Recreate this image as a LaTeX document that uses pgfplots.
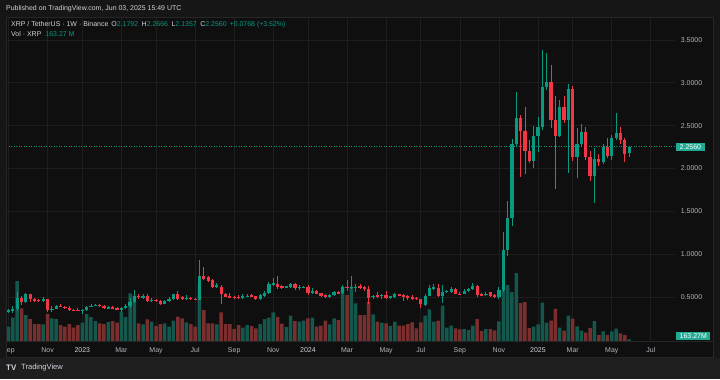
\documentclass[border=0pt]{standalone}
\usepackage{pgfplots}
\pgfplotsset{compat=1.18}
\usepackage{pgfplotstable}
\usepackage{fontspec}
\setmainfont{Liberation Sans}
\definecolor{bgc}{HTML}{161616}
\definecolor{panel}{HTML}{0F0F0F}
\definecolor{band}{HTML}{1E1E1E}
\definecolor{border}{HTML}{262626}
\definecolor{gridc}{HTML}{1E1E1E}
\definecolor{upc}{HTML}{089981}
\definecolor{dnc}{HTML}{F23645}
\definecolor{volup}{HTML}{14574D}
\definecolor{voldn}{HTML}{7A2F2E}
\definecolor{txt}{HTML}{B2B5BE}
\definecolor{hdr}{HTML}{D1D4DC}
\definecolor{lbl}{HTML}{22AB94}
\newcommand{\tvf}{\fontsize{7}{8.4}\selectfont}

% weekly candles, XRP/USDT, index 0 = week of 5 Sep 2022; V in millions
\pgfplotstableread{
i O H L C V
0 0.325 0.360 0.318 0.349 1373
1 0.348 0.400 0.318 0.356 2237
2 0.356 0.556 0.340 0.484 5760
4 0.440 0.546 0.430 0.531 2496
8 0.457 0.500 0.445 0.472 1603
10 0.350 0.392 0.330 0.365 2179
11 0.365 0.410 0.355 0.400 2112
17 0.339 0.355 0.300 0.350 1757
18 0.345 0.395 0.340 0.388 2592
19 0.388 0.420 0.380 0.400 2304
20 0.400 0.420 0.395 0.410 1920
23 0.370 0.400 0.365 0.380 1824
26 0.360 0.380 0.330 0.370 2813
27 0.370 0.420 0.355 0.390 2304
28 0.390 0.490 0.370 0.446 4579
29 0.446 0.585 0.430 0.515 4349
31 0.500 0.540 0.480 0.510 1603
33 0.455 0.490 0.440 0.470 1853
36 0.420 0.470 0.415 0.455 1699
37 0.455 0.500 0.440 0.480 1373
38 0.480 0.540 0.470 0.530 1949
41 0.482 0.520 0.470 0.490 1795
44 0.470 0.930 0.460 0.740 5280
48 0.620 0.660 0.600 0.645 1603
54 0.490 0.530 0.480 0.510 1277
55 0.500 0.530 0.495 0.515 1536
58 0.482 0.530 0.470 0.520 1632
59 0.512 0.570 0.500 0.550 2112
60 0.550 0.670 0.540 0.655 2237
61 0.647 0.725 0.630 0.663 2755
64 0.612 0.630 0.600 0.625 1344
65 0.612 0.660 0.600 0.655 2429
67 0.605 0.635 0.585 0.618 1853
68 0.612 0.630 0.600 0.618 1949
70 0.550 0.600 0.540 0.570 2237
74 0.496 0.530 0.490 0.523 1603
75 0.523 0.570 0.510 0.554 2179
77 0.543 0.640 0.530 0.620 5213
79 0.605 0.744 0.590 0.620 5213
80 0.608 0.655 0.560 0.620 3619
84 0.500 0.523 0.475 0.515 2563
86 0.508 0.535 0.480 0.527 1757
88 0.492 0.510 0.480 0.508 1440
89 0.500 0.545 0.490 0.535 1853
96 0.407 0.530 0.400 0.515 2429
97 0.515 0.640 0.510 0.601 3043
98 0.589 0.647 0.580 0.616 1853
100 0.515 0.643 0.426 0.554 3389
101 0.560 0.580 0.550 0.570 1277
102 0.562 0.620 0.550 0.597 1469
105 0.535 0.590 0.530 0.574 1152
106 0.570 0.600 0.560 0.593 1056
107 0.593 0.660 0.580 0.632 1469
110 0.520 0.560 0.510 0.539 1152
113 0.496 0.620 0.480 0.581 1891
114 0.580 1.260 0.560 1.047 4992
115 1.047 1.616 0.980 1.422 5376
116 1.422 2.345 1.330 2.287 4704
117 2.287 2.895 2.250 2.589 6528
121 2.085 2.500 2.000 2.384 1373
122 2.384 2.600 2.190 2.488 1603
123 2.488 3.380 2.450 2.946 3696
124 2.946 3.350 2.920 3.010 1776
127 2.384 2.800 2.370 2.713 1277
129 2.566 2.990 1.945 2.927 2429
131 2.131 2.470 1.890 2.287 1411
132 2.287 2.520 2.250 2.430 989
135 1.911 2.240 1.600 2.113 1920
137 2.074 2.290 2.050 2.248 931
139 2.143 2.390 2.100 2.357 931
140 2.357 2.643 2.330 2.419 1200
143 2.1792 2.2666 2.1357 2.2560 163.27
}\up

\pgfplotstableread{
i O H L C V
3 0.484 0.515 0.410 0.440 3139
5 0.531 0.540 0.445 0.475 2112
6 0.475 0.490 0.440 0.455 1632
7 0.470 0.480 0.440 0.457 1632
9 0.472 0.480 0.320 0.349 2592
12 0.400 0.415 0.385 0.388 1536
13 0.388 0.400 0.365 0.375 1373
14 0.375 0.390 0.340 0.350 1632
15 0.350 0.360 0.335 0.345 1277
16 0.345 0.370 0.335 0.340 1536
21 0.410 0.420 0.380 0.395 1699
22 0.395 0.405 0.360 0.370 1632
24 0.382 0.400 0.360 0.365 1920
25 0.368 0.385 0.355 0.360 1757
30 0.515 0.540 0.480 0.500 1699
32 0.515 0.540 0.440 0.455 2083
34 0.470 0.480 0.440 0.452 1440
35 0.452 0.460 0.410 0.420 1632
39 0.530 0.565 0.460 0.475 2333
40 0.498 0.515 0.460 0.482 2179
42 0.490 0.500 0.460 0.475 1632
43 0.478 0.490 0.460 0.470 1373
45 0.750 0.853 0.700 0.710 2976
46 0.729 0.740 0.680 0.690 1699
47 0.698 0.710 0.600 0.613 1699
49 0.620 0.640 0.415 0.530 2755
50 0.530 0.550 0.500 0.505 1632
51 0.510 0.545 0.490 0.495 1632
52 0.502 0.510 0.480 0.495 1152
53 0.505 0.520 0.480 0.490 1536
56 0.523 0.540 0.500 0.508 1440
57 0.508 0.510 0.470 0.482 1219
62 0.655 0.748 0.590 0.620 2304
63 0.628 0.640 0.595 0.615 1661
66 0.655 0.660 0.580 0.600 1920
69 0.612 0.635 0.520 0.543 2179
71 0.570 0.585 0.530 0.539 1373
72 0.543 0.550 0.500 0.515 1469
73 0.523 0.530 0.490 0.496 1949
76 0.562 0.570 0.530 0.540 2016
78 0.620 0.698 0.570 0.601 4416
81 0.628 0.650 0.590 0.612 2496
82 0.620 0.630 0.570 0.589 2496
83 0.589 0.630 0.420 0.492 3773
85 0.523 0.560 0.490 0.500 1853
87 0.527 0.570 0.480 0.492 1699
90 0.535 0.540 0.510 0.515 1469
91 0.519 0.530 0.450 0.500 1469
92 0.508 0.520 0.470 0.488 1632
93 0.500 0.520 0.470 0.481 1795
94 0.488 0.500 0.470 0.477 1219
95 0.473 0.480 0.376 0.415 1795
99 0.601 0.647 0.500 0.515 1949
103 0.597 0.600 0.530 0.535 1219
104 0.540 0.560 0.520 0.530 1123
108 0.632 0.645 0.500 0.523 2112
109 0.531 0.550 0.510 0.516 960
111 0.554 0.560 0.500 0.516 1152
112 0.519 0.535 0.490 0.504 1027
118 2.589 2.620 1.900 2.434 3648
119 2.434 2.720 1.940 2.198 3744
120 2.198 2.330 2.060 2.085 1248
125 3.010 3.210 2.470 2.570 1949
126 2.570 2.840 1.764 2.384 3091
128 2.713 2.840 2.530 2.570 989
130 2.927 2.960 2.090 2.131 2141
133 2.430 2.480 2.100 2.131 816
134 2.131 2.200 1.850 1.911 1248
136 2.113 2.170 2.030 2.074 576
138 2.248 2.350 2.120 2.143 576
141 2.419 2.480 2.280 2.333 739
142 2.333 2.360 2.074 2.171 576
}\dn

\pgfplotsset{
  tvaxis/.style={at={(6bp,38bp)}, anchor=south west, scale only axis,
    width=669bp, height=323bp, xmin=-0.576, xmax=153.57},
}

\begin{document}
\begin{tikzpicture}[x=1bp,y=1bp]
\fill[bgc] (0,0) rectangle (720,379);
\fill[panel] (6,22) rectangle (713,362);
\fill[band] (0,0) rectangle (720,21);

% grid and scales
\begin{axis}[tvaxis, ymin=-0.014, ymax=3.756,
  axis line style={draw=none}, tick style={draw=none}, major tick length=0pt,
  xmajorgrids, ymajorgrids, grid style={draw=gridc, line width=0.7bp},
  xtick={0,9,17,26,34,43,52,61,69,78,87,95,104,113,122,130,139,148},
  xticklabels={Sep,Nov,\textcolor{hdr}{2023},Mar,May,Jul,Sep,Nov,\textcolor{hdr}{2024},Mar,May,Jul,Sep,Nov,\textcolor{hdr}{2025},Mar,May,Jul},
  xticklabel style={font=\tvf, text=txt, anchor=base, yshift=-11bp},
  ytick={0.5,1,1.5,2,2.5,3,3.5}, yticklabel pos=right, scaled y ticks=false,
  /pgf/number format/assume math mode=true,
  yticklabel style={font=\tvf, text=txt, anchor=west, inner sep=0pt, xshift=5.7bp,
    /pgf/number format/fixed, /pgf/number format/fixed zerofill, /pgf/number format/precision=4},
]
\addplot[draw=none] coordinates {(0,1)};
\end{axis}

% volume
\begin{axis}[tvaxis, ymin=0, ymax=31008, hide axis, clip=true]
\addplot[ybar, bar width=3.5bp, bar shift=0pt, fill=volup, draw=none] table[x=i,y=V]{\up};
\addplot[ybar, bar width=3.5bp, bar shift=0pt, fill=voldn, draw=none] table[x=i,y=V]{\dn};
\end{axis}

% candles
\begin{axis}[tvaxis, ymin=-0.014, ymax=3.756, hide axis, clip=true]
\addplot[draw=upc, dash pattern=on 1bp off 1.5bp, line width=0.6bp] coordinates {(-0.576,2.256) (153.57,2.256)};
\addplot[draw=none, mark=none, error bars/.cd, y dir=both, y explicit, error mark=none,
  error bar style={draw=upc, line width=0.9bp}]
  table[x=i, y expr={(\thisrow{H}+\thisrow{L})/2}, y error expr={(\thisrow{H}-\thisrow{L})/2}]{\up};
\addplot[draw=none, mark=none, error bars/.cd, y dir=both, y explicit, error mark=none,
  error bar style={draw=dnc, line width=0.9bp}]
  table[x=i, y expr={(\thisrow{H}+\thisrow{L})/2}, y error expr={(\thisrow{H}-\thisrow{L})/2}]{\dn};
\addplot[draw=none, mark=none, error bars/.cd, y dir=both, y explicit, error mark=none,
  error bar style={draw=upc, line width=3.2bp}]
  table[x=i, y expr={(\thisrow{O}+\thisrow{C})/2}, y error expr={max(abs(\thisrow{C}-\thisrow{O})/2,0.004)}]{\up};
\addplot[draw=none, mark=none, error bars/.cd, y dir=both, y explicit, error mark=none,
  error bar style={draw=dnc, line width=3.2bp}]
  table[x=i, y expr={(\thisrow{O}+\thisrow{C})/2}, y error expr={max(abs(\thisrow{C}-\thisrow{O})/2,0.004)}]{\dn};
\end{axis}

% frame
\fill[bgc] (0,21) rectangle (6,362);
\draw[border, line width=0.6bp] (6,22) rectangle (713,362);
\draw[border, line width=0.6bp] (6,38) -- (713,38);

% texts
\node[anchor=west, font=\tvf, text=hdr, inner sep=0pt] at (6,370) {Published on TradingView.com, Jun 03, 2025 15:49 UTC};
\node[anchor=west, font=\tvf, text=hdr, inner sep=0pt] at (11,354) {XRP / TetherUS · 1W · Binance\hspace{3bp}O\textcolor{upc}{2.1792}\hspace{3.5bp}H\textcolor{upc}{2.2666}\hspace{3.5bp}L\textcolor{upc}{2.1357}\hspace{3.5bp}C\textcolor{upc}{2.2560}\hspace{3bp}\textcolor{upc}{+0.0768 (+3.52\%)}};
\node[anchor=west, font=\tvf, text=hdr, inner sep=0pt] at (11,344.5) {Vol · XRP\hspace{4bp}\textcolor{upc}{163.27 M}};
\node[anchor=west, fill=lbl, text=white, font=\tvf, inner xsep=3.5bp, inner ysep=0pt, minimum height=8bp] at (676,232.3) {2.2560};
\node[anchor=west, fill=lbl, text=white, font=\tvf, inner xsep=3.5bp, inner ysep=0pt, minimum height=8.5bp] at (676,42.8) {163.27M};
\node[anchor=west, font=\fontsize{8}{9}\selectfont\bfseries, text=hdr, inner sep=0pt] at (6,11) {TV};
\node[anchor=west, font=\fontsize{7.6}{9}\selectfont, text=hdr, inner sep=0pt] at (21,11) {TradingView};

\pgfresetboundingbox
\path (0,0) rectangle (720,379);
\end{tikzpicture}
\end{document}
